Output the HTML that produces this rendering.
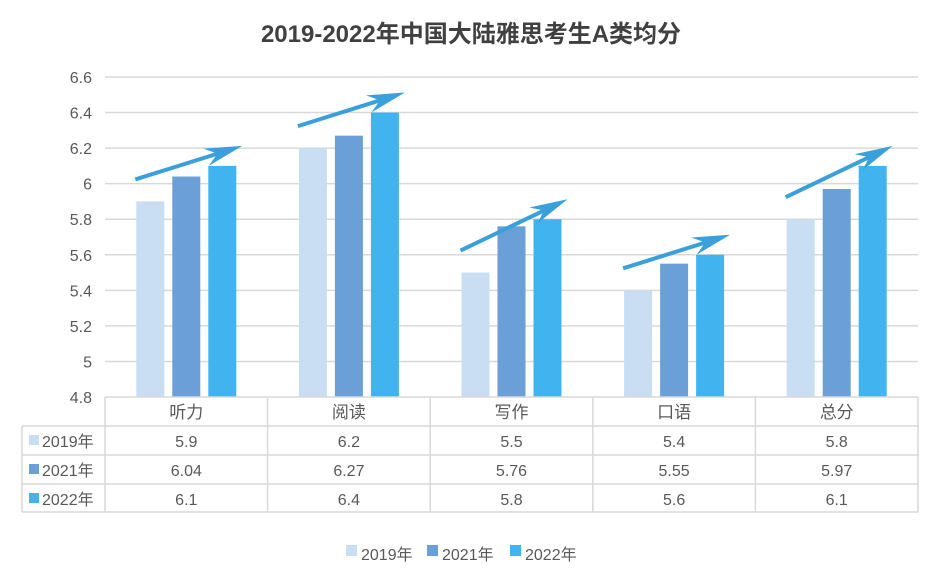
<!DOCTYPE html>
<html><head><meta charset="utf-8"><style>
body{margin:0;background:#fff;}
svg text{font-family:"Liberation Sans","Noto Sans CJK SC",sans-serif;}
</style></head><body>
<svg id="chart" width="943" height="575" viewBox="0 0 943 575" xmlns="http://www.w3.org/2000/svg">
<text x="471" y="42" text-anchor="middle" font-size="24" font-weight="bold" fill="#404040">2019-2022年中国大陆雅思考生A类均分</text>
<g id="grid"></g><g id="bars"></g><g id="arrows"></g><g id="table"></g><g id="legend"></g>
</svg>
<script>
const categories=["听力","阅读","写作","口语","总分"];
const seriesNames=["2019年","2021年","2022年"];
const s2019=[5.9,6.2,5.5,5.4,5.8];
const s2021=[6.04,6.27,5.76,5.55,5.97];
const s2022=[6.1,6.4,5.8,5.6,6.1];
const tableLabels2019=["5.9","6.2","5.5","5.4","5.8"];
const tableLabels2021=["6.04","6.27","5.76","5.55","5.97"];
const tableLabels2022=["6.1","6.4","5.8","5.6","6.1"];
const yTicks=[4.8,5,5.2,5.4,5.6,5.8,6,6.2,6.4,6.6];
const yTickLabels=["4.8","5","5.2","5.4","5.6","5.8","6","6.2","6.4","6.6"];
const colors=["#c9ddf3","#6a9fd8","#41b4f0"];
const NS="http://www.w3.org/2000/svg";
const X0=105,X1=918,Y0=397,Y1=77,MIN=4.8,MAX=6.6;
const bw=(X1-X0)/categories.length;
const y=v=>Y0-(v-MIN)/(MAX-MIN)*(Y0-Y1);
const cx=i=>X0+bw*(i+0.5);
function mk(tag,attrs,parent){const e=document.createElementNS(NS,tag);for(const k in attrs)e.setAttribute(k,attrs[k]);parent.appendChild(e);return e;}
const grid=document.getElementById('grid');
yTicks.forEach((t,i)=>{
  if(i>0){const l=mk('line',{x1:X0,x2:X1,y1:y(t),y2:y(t),stroke:'#d9d9d9','stroke-width':1.5},grid);
  
  }
  const tx=mk('text',{x:92,y:y(t)+6,'text-anchor':'end','font-size':16,fill:'#595959'},grid);
  
  
  tx.textContent=yTickLabels[i];
});
const series=[s2019,s2021,s2022];
const barW=28,step=36;
const barsG=document.getElementById('bars');
series.forEach((s,si)=>{s.forEach((v,i)=>{
  const bx=cx(i)-barW/2+(si-1)*step;
  const r=mk('rect',{x:bx,y:y(v),width:barW,height:Y0-y(v),fill:colors[si]},barsG);
  
  
});});
const ar=document.getElementById('arrows');
categories.forEach((c,i)=>{
  const xs=cx(i)-barW/2-step-1, ys=y(s2019[i])-22;
  const xe=cx(i)+step+barW/2+6, ye=y(s2022[i])-20;
  const g=mk('g',{},ar);
  
  
  const dx=xe-xs,dy=ye-ys,L=Math.hypot(dx,dy),ux=dx/L,uy=dy/L,px=-uy,py=ux;
  mk('line',{x1:xs,y1:ys,x2:xe-ux*10,y2:ye-uy*10,stroke:'#3aa0dc','stroke-width':4},g);
  const bx=xe-ux*38,by=ye-uy*38;
  const pts=[[xe,ye],[bx+px*9,by+py*9],[xe-ux*26,ye-uy*26],[bx-px*9,by-py*9]];
  mk('polygon',{points:pts.map(p=>p.join(',')).join(' '),fill:'#3aa0dc'},g);
});
const tb=document.getElementById('table');
const rows=[397,426,455,484,512];
const lc='#d9d9d9';
mk('line',{x1:X0,x2:X1,y1:397,y2:397,stroke:lc,'stroke-width':1.5},tb);
for(let r=1;r<rows.length;r++) mk('line',{x1:22,x2:X1,y1:rows[r],y2:rows[r],stroke:lc,'stroke-width':1.5},tb);
mk('line',{x1:22,x2:22,y1:426,y2:512,stroke:lc,'stroke-width':1.5},tb);
for(let i=0;i<=categories.length;i++) mk('line',{x1:X0+bw*i,x2:X0+bw*i,y1:397,y2:512,stroke:lc,'stroke-width':1.5},tb);
categories.forEach((c,i)=>{
  const t=mk('text',{x:cx(i),y:418,'text-anchor':'middle','font-size':17,fill:'#595959'},tb);
  
  
  t.textContent=c;
});
const tl=[tableLabels2019,tableLabels2021,tableLabels2022];
tl.forEach((arr,si)=>{
  const ry=rows[si+1]+21;
  const sw=mk('rect',{x:29,y:ry-12,width:10,height:10,fill:colors[si]},tb);
  
  
  const h=mk('text',{x:42,y:ry,'font-size':16,fill:'#595959'},tb);
  
  
  h.textContent=seriesNames[si];
  arr.forEach((v,i)=>{
    const t=mk('text',{x:cx(i),y:ry,'text-anchor':'middle','font-size':16,fill:'#595959'},tb);
    
    
    t.textContent=v;
  });
});
const lg=document.getElementById('legend');
const lx=[346,427,510];
seriesNames.forEach((n,si)=>{
  const g=mk('g',{},lg);
  
  
  mk('rect',{x:lx[si],y:545,width:11,height:11,fill:colors[si]},g);
  const t=mk('text',{x:lx[si]+15,y:560,'font-size':16,fill:'#595959'},g);
  t.textContent=n;
});
</script>
</body></html>
